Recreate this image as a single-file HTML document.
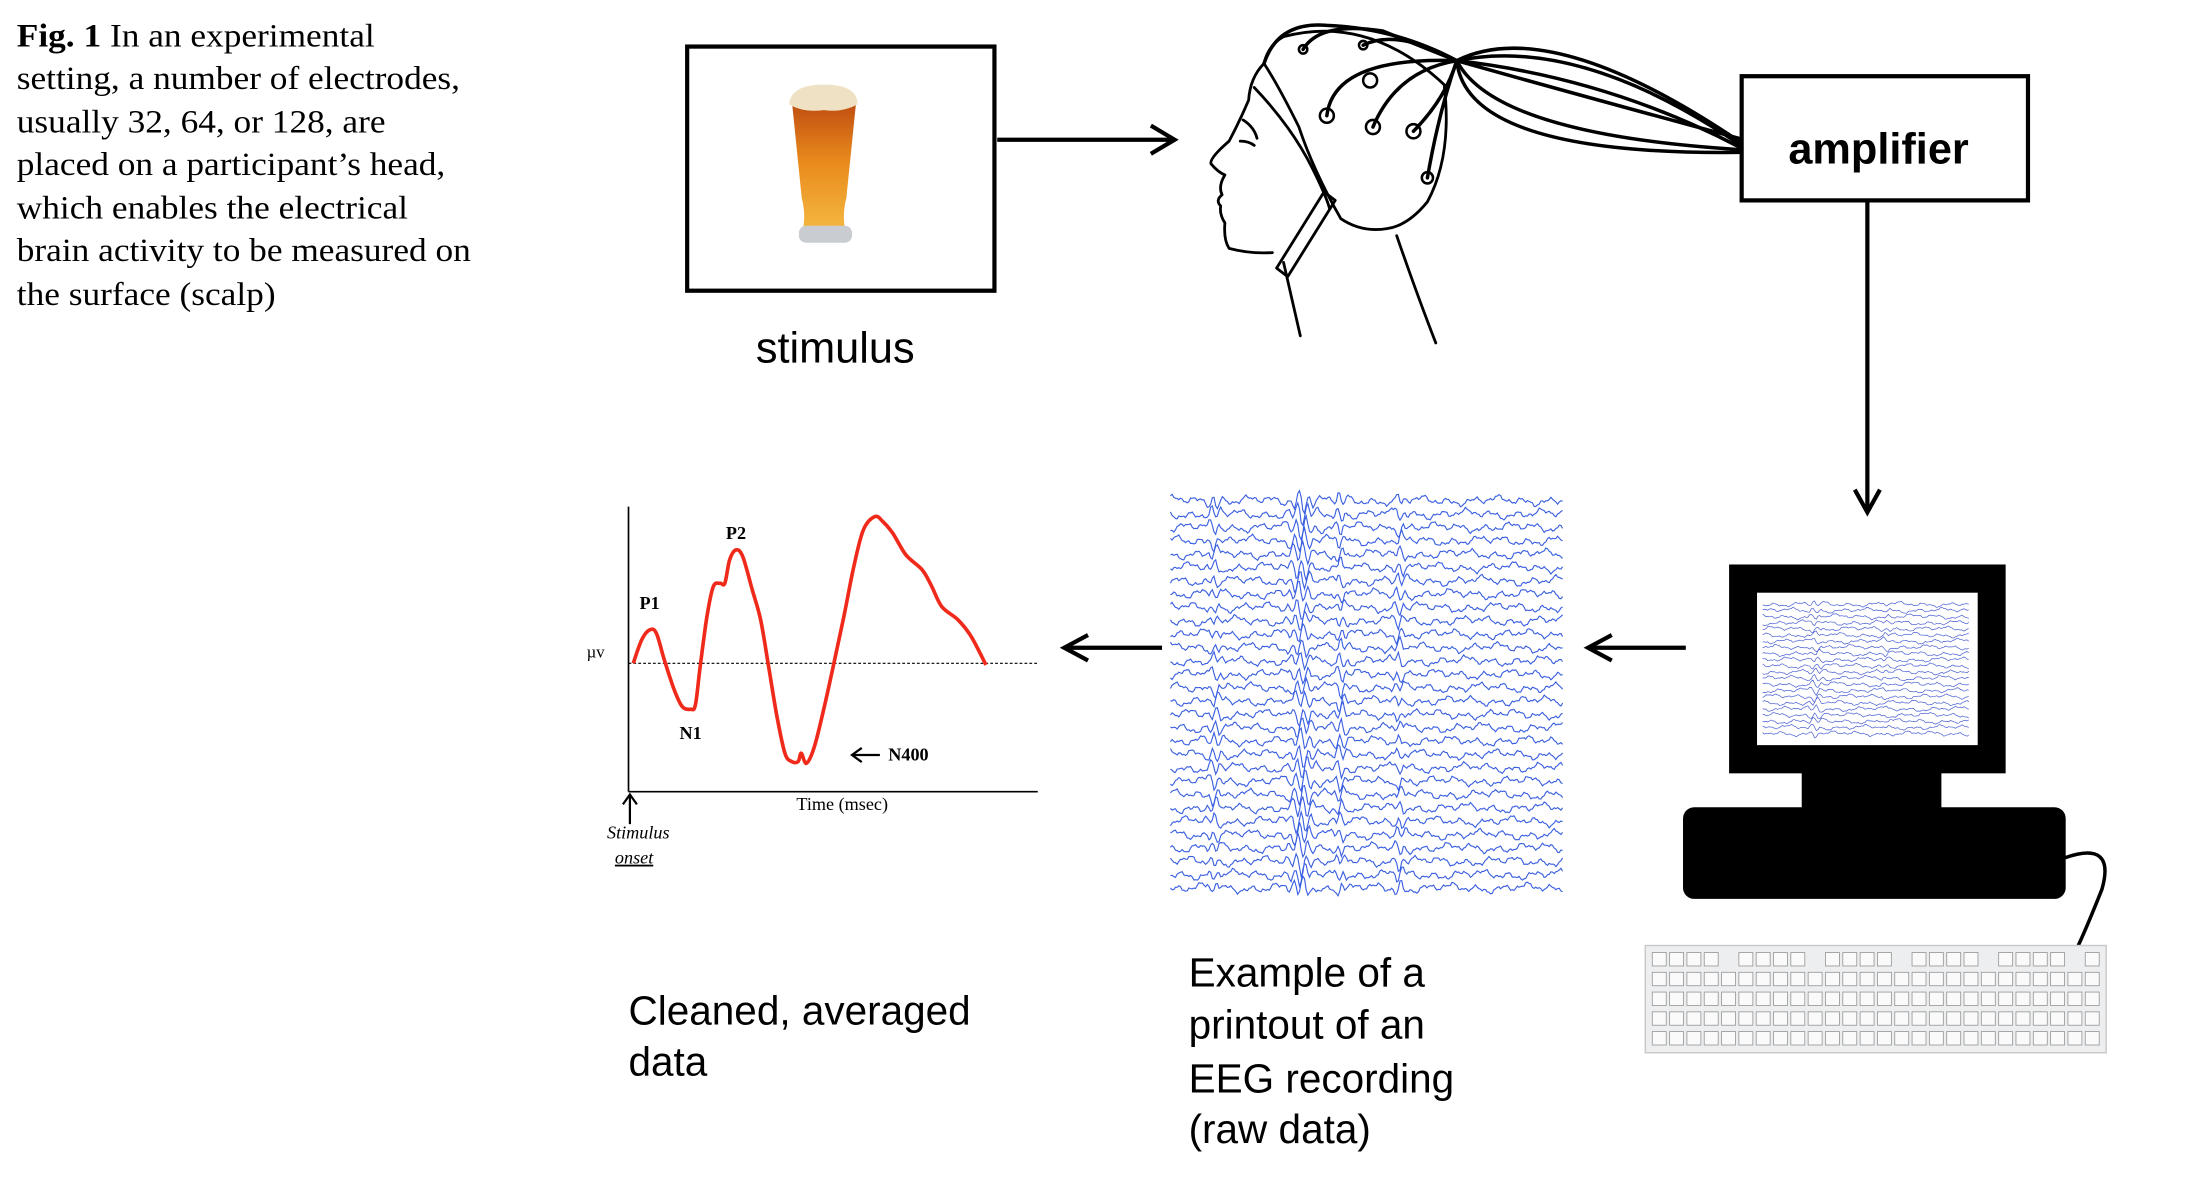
<!DOCTYPE html>
<html><head><meta charset="utf-8"><style>
html,body{margin:0;padding:0;background:#fff;width:2190px;height:1184px;overflow:hidden}
svg{display:block}
</style></head><body>
<svg id="fig" width="2190" height="1184" viewBox="0 0 1568 839" preserveAspectRatio="none" xmlns="http://www.w3.org/2000/svg">
<defs>
<linearGradient id="beer" x1="0" y1="0" x2="0" y2="1">
<stop offset="0" stop-color="#b9450f"/><stop offset="0.5" stop-color="#e98a1c"/><stop offset="1" stop-color="#f3b640"/></linearGradient>
</defs>
<g font-family="Liberation Serif, serif" font-size="23" fill="#000" transform="translate(12,0) scale(1.1,1)">
<text x="0" y="33"><tspan font-weight="bold">Fig. 1</tspan>  In an experimental</text>
<text x="0" y="63">setting, a number of electrodes,</text>
<text x="0" y="94">usually 32, 64, or 128, are</text>
<text x="0" y="124">placed on a participant’s head,</text>
<text x="0" y="155">which enables the electrical</text>
<text x="0" y="185">brain activity to be measured on</text>
<text x="0" y="216">the surface (scalp)</text>
</g>
<g>
<rect x="492" y="33" width="220" height="173" fill="#fff" stroke="#000" stroke-width="3"/>
<path d="M567 72 Q590 62 613 72 L606 140 Q603 152 605 162 L575 162 Q577 152 574 140 Z" fill="url(#beer)"/>
<path d="M565 74 Q566 60 590 60 Q614 60 614 74 Q603 80 590 78 Q575 80 565 74Z" fill="#efe2c4"/>
<rect x="572" y="160" width="38" height="12" rx="5" fill="#c9ccd0"/>
</g>
<text x="598" y="257" text-anchor="middle" font-family="Liberation Sans, sans-serif" font-size="31">stimulus</text>
<g stroke="#000" stroke-width="3" fill="none">
<line x1="714" y1="99" x2="840" y2="99"/><polyline points="824,89 841,99 824,109"/></g>
<g fill="none" stroke="#000" stroke-width="2" stroke-linecap="round" stroke-linejoin="round">
<path d="M905 45 Q895 55 894 71 Q888 85 880 100 Q866 112 867 116 Q872 122 877 124 Q872 132 875 138 Q870 142 874 146 Q873 152 877 158 Q876 170 880 176 Q895 180 911 179"/>
<path d="M919 26 Q980 10 1034 60 Q1040 110 1022 143 Q1008 160 993 162 Q975 165 960 155 Q940 120 930 90 Q915 60 905 45 Q908 32 919 26"/>
<path d="M898 62 Q925 90 940 120 Q950 140 952 148"/>
<path d="M890 85 Q898 90 900 98 M888 100 Q894 100 898 103"/>
<path d="M919 186 L931 238 M1000 167 Q1015 210 1028 243"/>
<path d="M948 136 L956 142 L922 196 L914 190 Z"/>
<g stroke-width="2.5">
<path d="M905 45 Q915 15 950 18 Q1000 20 1043 43"/>
<path d="M933 35 Q945 15 990 22 L1043 43"/>
<path d="M976 32 Q1000 20 1043 43"/>
<path d="M950 82 Q955 40 1043 43"/>
<path d="M983 90 Q1000 50 1043 43"/>
<path d="M1012 93 Q1035 70 1043 43"/>
<path d="M1022 126 Q1030 80 1043 43"/>
<path d="M1043 43 Q1110 10 1245 100"/>
<path d="M1043 43 Q1130 25 1245 102"/>
<path d="M1043 43 Q1150 55 1245 104"/>
<path d="M1043 43 Q1070 95 1245 106"/>
<path d="M1043 43 Q1050 110 1245 108"/>
<path d="M1043 43 Q1140 70 1245 98"/>
</g>
<g stroke-width="1.8"><circle cx="950" cy="82" r="5"/><circle cx="983" cy="90" r="5"/><circle cx="1012" cy="93" r="5"/><circle cx="981" cy="57" r="5"/><circle cx="1022" cy="126" r="4"/><circle cx="933" cy="35" r="3"/><circle cx="976" cy="32" r="3"/></g>
</g>
<g>
<rect x="1247" y="54" width="205" height="88" fill="#fff" stroke="#000" stroke-width="3"/>
<text x="1345" y="116" text-anchor="middle" font-family="Liberation Sans, sans-serif" font-weight="bold" font-size="31">amplifier</text></g>
<g stroke="#000" stroke-width="3" fill="none">
<line x1="1337" y1="142" x2="1337" y2="362"/><polyline points="1328,347 1337,363 1346,347"/></g>
<g>
<rect x="1238" y="400" width="198" height="148" fill="#000"/>
<rect x="1258" y="420" width="158" height="108" fill="#fff"/>
<g id="screenTraces"></g>
<rect x="1290" y="546" width="100" height="28" fill="#000"/>
<rect x="1205" y="572" width="274" height="65" rx="8" fill="#000"/>
<path d="M1478 608 Q1515 595 1505 630 Q1495 655 1488 670" fill="none" stroke="#000" stroke-width="2.5"/>
</g>
<g>
<rect x="1178" y="670" width="330" height="76" fill="#eceef0" stroke="#c8c8c8"/>
<g id="keys"></g></g>
<g stroke="#000" stroke-width="3" fill="none">
<line x1="1207" y1="459" x2="1138" y2="459"/><polyline points="1154,450 1137,459 1154,468"/></g>
<g id="eeg"></g>
<g stroke="#000" stroke-width="3" fill="none">
<line x1="832" y1="459" x2="763" y2="459"/><polyline points="779,450 762,459 779,468"/></g>
<g id="erp" font-family="Liberation Serif, serif"></g>
<g font-family="Liberation Sans, sans-serif" font-size="29" fill="#000">
<text><tspan x="450" y="726">Cleaned, averaged</tspan><tspan x="450" y="762">data</tspan></text>
<text><tspan x="851" y="699">Example of a</tspan><tspan x="851" y="736">printout of an</tspan><tspan x="851" y="774">EEG recording</tspan><tspan x="851" y="810">(raw data)</tspan></text>
</g>
</svg>
<script>
// ERP waveform data (time in ms, amplitude in µV)
const erpTimes = [12,33,53,70,90,115,135,156,168,180,197,213,230,242,254,270,287,311,332,352,373,393,410,426,434,447,467,492,516,541,566,590,619,639,664,697,738,762,787,828,861,898];
const erpValues = [0,1.4,2.0,1.8,0.2,-1.6,-2.6,-2.76,-2.5,-0.2,2.8,4.6,4.8,4.8,6.2,6.8,6.4,4.4,2.6,-0.2,-3.2,-5.4,-5.9,-5.9,-5.4,-6.0,-5.0,-2.6,0,2.8,5.8,8.0,8.8,8.5,7.8,6.5,5.6,4.6,3.4,2.6,1.6,-0.1];
const peakLabels = ['P1','P2','N1'];
const peakTimes = [53,270,156];
const peakValues = [3.6,7.8,-4.2];
const NS='http://www.w3.org/2000/svg';
function mk(tag,attrs,parent){const e=document.createElementNS(NS,tag);for(const k in attrs)e.setAttribute(k,attrs[k]);parent.appendChild(e);return e;}
const erp=document.getElementById('erp');
const X0=450,X1=735,Y0=470,PX=11.81;
const xs=t=>X0+(X1-X0)*t/1000;
const ys=v=>Y0-v*PX;
let a=mk('line',{x1:X0,y1:359,x2:X0,y2:561,stroke:'#000','stroke-width':1.2},erp);


a=mk('line',{x1:X0,y1:561,x2:X1+8,y2:561,stroke:'#000','stroke-width':1.2},erp);


a=mk('line',{x1:X0,y1:Y0,x2:X1+8,y2:Y0,stroke:'#000','stroke-width':0.8,'stroke-dasharray':'2,1.5'},erp);


const pts=erpTimes.map((t,i)=>[xs(t),ys(erpValues[i])]);
let d='M'+pts[0][0]+' '+pts[0][1];
for(let i=0;i<pts.length-1;i++){const p0=pts[Math.max(0,i-1)],p1=pts[i],p2=pts[i+1],p3=pts[Math.min(pts.length-1,i+2)];
d+=` C${p1[0]+(p2[0]-p0[0])/6} ${p1[1]+(p2[1]-p0[1])/6} ${p2[0]-(p3[0]-p1[0])/6} ${p2[1]-(p3[1]-p1[1])/6} ${p2[0]} ${p2[1]}`;}
const line=mk('path',{d:d,fill:'none',stroke:'#f02a1a','stroke-width':2.6,'stroke-linejoin':'round'},erp);


peakLabels.forEach((l,i)=>{const t=mk('text',{x:xs(peakTimes[i]),y:ys(peakValues[i])+4,'font-size':13,'font-weight':'bold','text-anchor':'middle'},erp);t.textContent=l;

});
let t=mk('text',{x:636,y:539,'font-size':13,'font-weight':'bold'},erp);t.textContent='N400';


let g=mk('g',{stroke:'#000','stroke-width':1.6,fill:'none'},erp);


mk('line',{x1:630,y1:535,x2:611,y2:535},g);mk('polyline',{points:'617,530 610,535 617,540'},g);
t=mk('text',{x:420,y:466,'font-size':12},erp);t.textContent='µv';


t=mk('text',{x:603,y:574,'font-size':13,'text-anchor':'middle'},erp);t.textContent='Time (msec)';


g=mk('g',{stroke:'#000','stroke-width':1.6,fill:'none'},erp);


mk('line',{x1:451,y1:584,x2:451,y2:564},g);mk('polyline',{points:'446,570 451,563 456,570'},g);
t=mk('text',{x:457,y:594,'font-size':13,'font-style':'italic','text-anchor':'middle'},erp);t.textContent='Stimulus';


t=mk('text',{x:454,y:612,'font-size':13,'font-style':'italic','text-anchor':'middle','text-decoration':'underline'},erp);t.textContent='onset';



// decorative raw EEG texture (deterministic)
function wave(x,k){return Math.sin(x*0.35+k*1.7)*1.4+Math.sin(x*0.83+k*0.7)*0.9+Math.sin(x*1.9+k*3.1)*0.5+Math.sin(x*0.11+k*2.3)*1.2;}
function traces(parent,x0,x1,y0,y1,n,spikes,color,sw,amp){
for(let k=0;k<n;k++){const base=y0+(y1-y0)*(k+0.5)/n;let s='';
for(let x=x0;x<=x1;x+=1.2){let y=base+wave(x,k)*amp;
spikes.forEach(sp=>{const dx=x-sp[0];y+=sp[1]*amp*Math.exp(-dx*dx/sp[2])*Math.sin(dx*0.9+k);});
s+=(s?'L':'M')+x.toFixed(1)+' '+y.toFixed(1);}
const p=mk('path',{d:s,fill:'none',stroke:color,'stroke-width':sw},parent);

}}
traces(document.getElementById('eeg'),838,1120,350,634,30,[[870,4,20],[932,6,60],[960,5,15],[1002,4,15]],'#3a5fe0',0.8,1.2);
traces(document.getElementById('screenTraces'),1262,1410,426,522,22,[[1300,4,20],[1350,2,10]],'#4a5fd0',0.5,0.6);
const keys=document.getElementById('keys');
for(let r=0;r<5;r++){for(let c=0;c<26;c++){const x=1183+c*12.4,y=675+r*14;if(r==0&&c%5==4)continue;
const kk=mk('rect',{x:x,y:y,width:10,height:9.5,fill:'#fafafa',stroke:'#999','stroke-width':0.6},keys);

}}
</script>
</body></html>
